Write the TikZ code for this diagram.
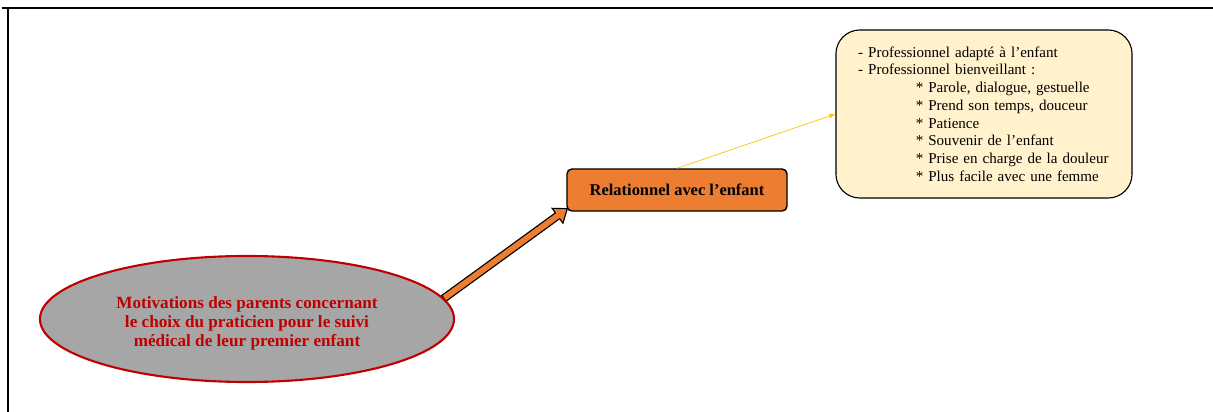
\documentclass[tikz,border=0pt]{standalone}
\usepackage{fontspec}
\setmainfont{Liberation Serif}
\usetikzlibrary{shapes.geometric,calc,backgrounds}
\definecolor{ellgray}{HTML}{A6A6A6}
\definecolor{darkred}{HTML}{C00000}
\definecolor{boxorange}{HTML}{ED7D31}
\definecolor{notecream}{HTML}{FFF2CC}
\definecolor{goldline}{HTML}{FFC000}
\begin{document}
\begin{tikzpicture}[x=0.025cm,y=-0.025cm,
    darkframe/.style={line width=1.5pt,line cap=rect}]
    \useasboundingbox (0,0) rectangle (1213,412);
    \draw[darkframe] (1213,8) -- (3,8);
    \draw[darkframe] (8,8) -- (8,412);
    \node (motiv) [ellipse,draw=darkred,fill=ellgray,line width=1.5pt,
      minimum width=10.35cm,minimum height=3.15cm,inner sep=0pt,
      label={[text=darkred,align=center,yshift=-0.11cm,
        font=\fontsize{12.2}{13.3}\selectfont\bfseries]center:Motivations des parents concernant\\le choix du praticien pour le suivi\\médical de leur premier enfant}]
      at (247,319) {};
    \node (rel) [draw,fill=boxorange,line width=1pt,rounded corners=3.5pt,
      minimum width=5.5cm,minimum height=1.05cm,inner sep=0pt,
      font=\fontsize{11.7}{12}\selectfont\bfseries]
      at (677,190) {Relationnel avec l’enfant};
    \node (note) [draw,fill=notecream,line width=0.8pt,rounded corners=17pt,
      minimum width=7.4cm,minimum height=4.2cm,inner xsep=15.6pt,
      text width=179pt,align=left,font=\fontsize{10.7}{12.6}\selectfont]
      at (984,114) {- Professionnel adapté à l’enfant\\
      - Professionnel bienveillant :\\
      \hspace*{41pt}* Parole, dialogue, gestuelle\\
      \hspace*{41pt}* Prend son temps, douceur\\
      \hspace*{41pt}* Patience\\
      \hspace*{41pt}* Souvenir de l’enfant\\
      \hspace*{41pt}* Prise en charge de la douleur\\
      \hspace*{41pt}* Plus facile avec une femme};
    % large block arrow, tail hidden behind the ellipse
    \coordinate (tail) at (motiv.6);
    \coordinate (tip) at ($(rel.south west)+(1,-3)$);
    \coordinate (base) at ($(tip)!0.3cm!(tail)$);
    \begin{scope}[on background layer]
      \filldraw[draw=black,fill=boxorange,line width=0.8pt,line join=miter]
        ($(tail)!0.09cm!90:(tip)$) -- ($(base)!0.09cm!90:(tip)$)
        -- ($(base)!0.23cm!90:(tip)$) -- (tip)
        -- ($(base)!0.23cm!-90:(tip)$) -- ($(base)!0.09cm!-90:(tip)$)
        -- ($(tail)!0.09cm!-90:(tip)$) -- cycle;
    \end{scope}
    \draw[goldline,line width=0.5pt,-latex] (rel.north) -- (note.west);
  \end{tikzpicture}
\end{document}
